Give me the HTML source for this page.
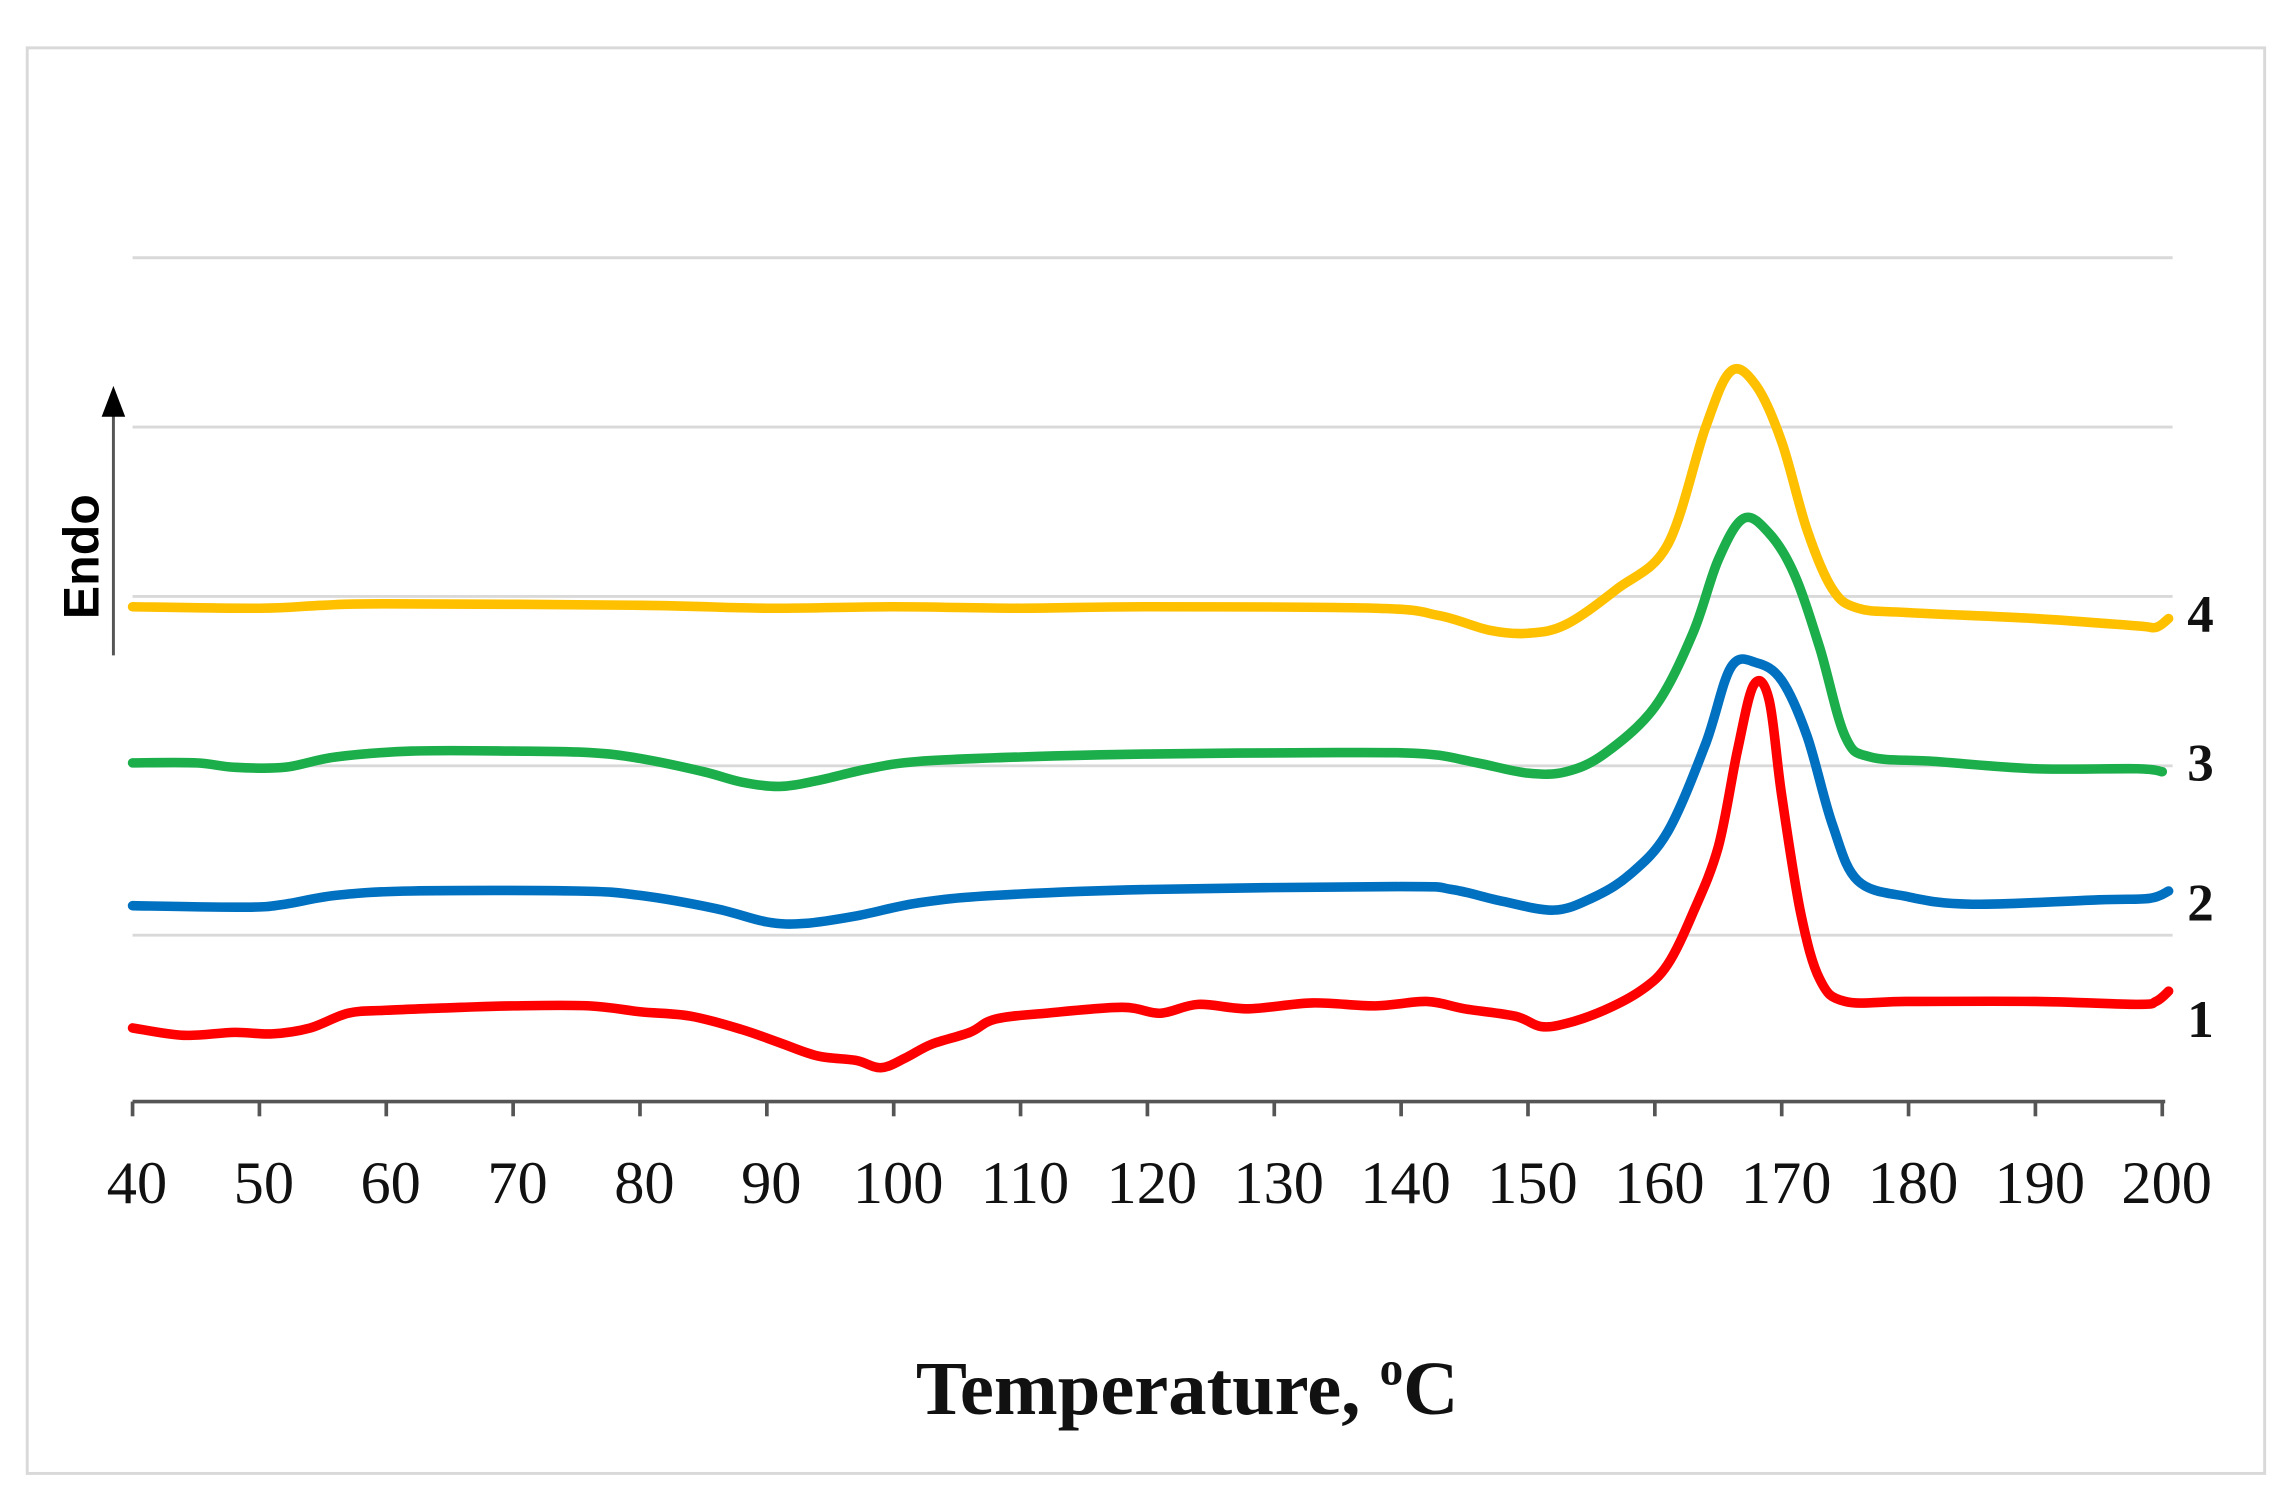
<!DOCTYPE html>
<html><head><meta charset="utf-8"><style>html,body{margin:0;padding:0;background:#fff}svg{display:block}</style></head>
<body>
<svg id="s" width="2286" height="1511" viewBox="0 0 1552 1026" preserveAspectRatio="none" xmlns="http://www.w3.org/2000/svg">
<rect x="0" y="0" width="1552" height="1026" fill="#fff"/>
<rect x="18.5" y="32.5" width="1519" height="968" fill="none" stroke="#d9d9d9" stroke-width="2"/>
<g stroke="#d9d9d9" stroke-width="2">
<line x1="90" y1="175" x2="1475" y2="175"/>
<line x1="90" y1="290" x2="1475" y2="290"/>
<line x1="90" y1="405" x2="1475" y2="405"/>
<line x1="90" y1="520" x2="1475" y2="520"/>
<line x1="90" y1="635" x2="1475" y2="635"/>
</g>
<line x1="90" y1="748" x2="1470" y2="748" stroke="#555" stroke-width="2.5"/>
<g id="ticks" stroke="#555" stroke-width="2.5"></g>
<g id="labels" font-family="Liberation Serif, serif" font-size="41" fill="#111" text-anchor="middle"></g>
<line x1="77" y1="445" x2="77" y2="280" stroke="#555" stroke-width="2"/>
<polygon points="77,262 69,283 85,283" fill="#000"/>
<text transform="translate(67,378) rotate(-90)" font-family="Liberation Sans, sans-serif" font-weight="bold" font-size="34" text-anchor="middle">Endo</text>
<g id="curves" fill="none" stroke-width="6.5" stroke-linejoin="round" stroke-linecap="round"></g>
<g font-family="Liberation Serif, serif" font-weight="bold" font-size="36" fill="#111">
<text x="1485" y="429">4</text><text x="1485" y="530">3</text><text x="1485" y="625">2</text><text x="1485" y="704">1</text>
</g>
<text x="806" y="960" font-family="Liberation Serif, serif" font-weight="bold" font-size="52" text-anchor="middle" fill="#111">Temperature, <tspan font-size="32" dy="-20">o</tspan><tspan dy="20">C</tspan></text>
</svg>
<script>
const X=t=>90+(t-40)*8.6125;
const ns="http://www.w3.org/2000/svg";
let tk=document.getElementById('ticks'),lb=document.getElementById('labels');
for(let t=40;t<=200;t+=10){let l=document.createElementNS(ns,'line');l.setAttribute('x1',X(t));l.setAttribute('x2',X(t));l.setAttribute('y1',748);l.setAttribute('y2',758);tk.appendChild(l);
let tx=document.createElementNS(ns,'text');tx.setAttribute('x',X(t)+3);tx.setAttribute('y',817);tx.textContent=t;lb.appendChild(tx);}
const data={
"#FFC000":[[40,412],[50,413],[55,411],[60,410],[80,411],[90,413],[100,412],[110,413],[120,412],[138,413],[143,418],[147,428],[150,430],[153,424],[157,400],[161,370],[164,290],[166,252],[168,262],[170,300],[172,360],[174,400],[176,413],[180,416],[190,420],[198,425],[199.5,426],[200.5,420]],
"#1BAE4B":[[40,518],[45,518],[48,521],[52,521],[56,514],[62,510],[70,510],[76,511],[80,515],[85,524],[88,531],[91,534],[94,530],[98,522],[102,517],[110,514],[120,512],[135,511],[142,512],[146,518],[150,525],[153,524],[156,512],[160,480],[163,430],[165,380],[167,352],[169,362],[171,390],[173,440],[175,500],[177,514],[182,517],[190,522],[198,522],[200,524]],
"#0070C0":[[40,615],[49,616],[52,614],[56,608],[62,605],[75,605],[80,608],[86,617],[90,626],[93,627],[97,622],[102,613],[108,608],[120,604],[140,602],[144,604],[148,612],[152,618],[155,610],[158,594],[161,565],[164,505],[166,453],[168,450],[170,462],[172,500],[174,560],[176,598],[180,609],[185,614],[195,611],[199,610],[200.5,605]],
"#FF0000":[[40,698],[44,703],[48,701],[51,702],[54,698],[57,688],[60,686],[66,684],[70,683],[76,683],[80,687],[84,690],[88,699],[91,708],[94,717],[97,720],[99,725],[101,718],[103,709],[106,701],[108,692],[112,688],[118,684],[121,688],[124,682],[128,685],[133,681],[138,683],[142,680],[145,685],[149,690],[151,697],[153,695],[156,686],[159,672],[161,655],[163,620],[165,575],[166.5,510],[167.8,465],[169,475],[170,540],[171.5,620],[173,665],[175,680],[180,680],[190,680],[198,682],[199.5,680],[200.5,673]]};
function smooth(pts){let P=pts.map(a=>[X(a[0]),a[1]]);let d='M'+P[0][0].toFixed(1)+','+P[0][1];
for(let i=0;i<P.length-1;i++){let p0=P[Math.max(0,i-1)],p1=P[i],p2=P[i+1],p3=P[Math.min(P.length-1,i+2)];
let c1=[p1[0]+(p2[0]-p0[0])/6,p1[1]+(p2[1]-p0[1])/6],c2=[p2[0]-(p3[0]-p1[0])/6,p2[1]-(p3[1]-p1[1])/6];
d+=' C'+c1[0].toFixed(1)+','+c1[1].toFixed(1)+' '+c2[0].toFixed(1)+','+c2[1].toFixed(1)+' '+p2[0].toFixed(1)+','+p2[1];}
return d;}
let g=document.getElementById('curves');
for(const c in data){let p=document.createElementNS(ns,'path');p.setAttribute('stroke',c);p.setAttribute('d',smooth(data[c]));g.appendChild(p);}
</script>
</body></html>
